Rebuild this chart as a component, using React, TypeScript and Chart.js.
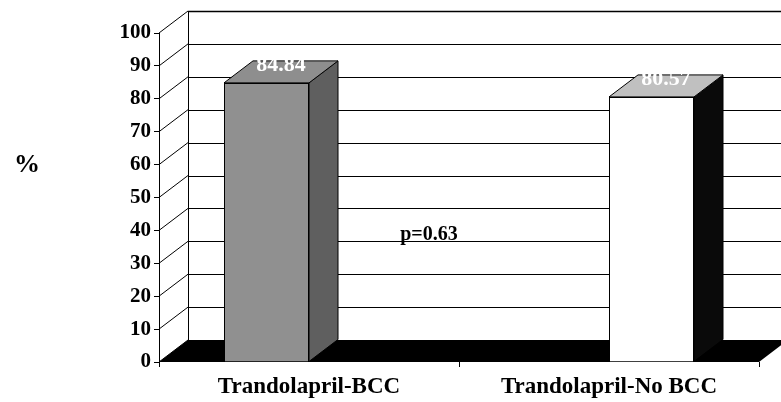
import React, { useEffect, useRef } from "react";
import { Chart, registerables } from "chart.js";

Chart.register(...registerables);

const categories = ["Trandolapril-BCC", "Trandolapril-No BCC"];
const seriesBCC: (number | null)[] = [84.84, null];
const seriesNoBCC: (number | null)[] = [null, 80.57];
const yTickValues = [0, 10, 20, 30, 40, 50, 60, 70, 80, 90, 100];
const yAxisTitle = "%";
const pValueText = "p=0.63";
const pValueLevel = 37;

const FONT = "'Liberation Serif', 'Times New Roman', serif";
const DX = 29;
const DY = -22;
const frontColors = ["#909090", "#ffffff"];
const topColors = ["#8e8e8e", "#c0c0c0"];
const sideColors = ["#5f5f5f", "#0a0a0a"];

const threeD = {
  id: "threeD",
  beforeDatasetsDraw(chart: any) {
    const { ctx, chartArea: a, scales } = chart;
    const y = scales.y;
    ctx.save();
    ctx.strokeStyle = "#000";
    ctx.lineWidth = 1;
    const yTop = y.getPixelForValue(100);
    const y0 = y.getPixelForValue(0);
    for (const v of yTickValues) {
      const yf = y.getPixelForValue(v);
      const yb = Math.round(yf + DY) + 0.5;
      ctx.lineWidth = v === 100 ? 1.5 : 1;
      ctx.beginPath();
      ctx.moveTo(a.left + DX, yb);
      ctx.lineTo(a.right + DX + 10, yb);
      ctx.stroke();
      ctx.lineWidth = 1;
      ctx.beginPath();
      ctx.moveTo(a.left, yf);
      ctx.lineTo(a.left + DX, yf + DY);
      ctx.stroke();
    }
    ctx.beginPath();
    ctx.moveTo(a.left + DX + 0.5, yTop + DY);
    ctx.lineTo(a.left + DX + 0.5, y0 + DY);
    ctx.stroke();
    // floor
    ctx.fillStyle = "#000";
    ctx.beginPath();
    ctx.moveTo(a.left, y0);
    ctx.lineTo(a.right, y0);
    ctx.lineTo(a.right + DX, y0 + DY);
    ctx.lineTo(a.left + DX, y0 + DY);
    ctx.closePath();
    ctx.fill();
    ctx.restore();
  },
  afterDatasetsDraw(chart: any) {
    const { ctx, chartArea: a, scales } = chart;
    const x = scales.x;
    const y = scales.y;
    ctx.save();
    ctx.lineWidth = 1;
    ctx.strokeStyle = "#000";
    chart.data.datasets.forEach((ds: any, di: number) => {
      const meta = chart.getDatasetMeta(di);
      meta.data.forEach((el: any, i: number) => {
        const v = ds.data[i];
        if (v === null || v === undefined) return;
        const { x: cx, y: top, base, width } = el.getProps(["x", "y", "base", "width"], true);
        const l = cx - width / 2;
        const r = cx + width / 2;
        // side face
        ctx.fillStyle = sideColors[di];
        ctx.beginPath();
        ctx.moveTo(r, top);
        ctx.lineTo(r + DX, top + DY);
        ctx.lineTo(r + DX, base + DY);
        ctx.lineTo(r, base);
        ctx.closePath();
        ctx.fill();
        ctx.stroke();
        // top face
        ctx.fillStyle = topColors[di];
        ctx.beginPath();
        ctx.moveTo(l, top);
        ctx.lineTo(l + DX, top + DY);
        ctx.lineTo(r + DX, top + DY);
        ctx.lineTo(r, top);
        ctx.closePath();
        ctx.fill();
        ctx.stroke();
        // value label
        ctx.fillStyle = "#ffffff";
        ctx.font = `bold 22px ${FONT}`;
        ctx.textAlign = "center";
        ctx.textBaseline = "alphabetic";
        ctx.fillText(v.toFixed(2), cx + DX / 2, top + DY / 2 - 1);
      });
    });
    // axis title
    ctx.fillStyle = "#000";
    ctx.font = `bold 26px ${FONT}`;
    ctx.textAlign = "center";
    ctx.textBaseline = "middle";
    ctx.fillText(yAxisTitle, 27, (a.top + a.bottom) / 2 - 32);
    // p value
    ctx.font = `bold 20px ${FONT}`;
    ctx.textAlign = "center";
    ctx.textBaseline = "alphabetic";
    const midX = (x.getPixelForValue(0) + x.getPixelForValue(1)) / 2 - 30;
    ctx.fillText(pValueText, midX, y.getPixelForValue(pValueLevel));
    ctx.restore();
  },
};

export default function App() {
  const ref = useRef<HTMLCanvasElement | null>(null);
  useEffect(() => {
    if (!ref.current) return;
    const chart = new Chart(ref.current, {
      type: "bar",
      data: {
        labels: categories,
        datasets: [
          {
            label: "BCC",
            data: seriesBCC,
            backgroundColor: frontColors[0],
            borderColor: "#000",
            borderWidth: 1,
            categoryPercentage: 170 / 300,
            barPercentage: 1,
          },
          {
            label: "No BCC",
            data: seriesNoBCC,
            backgroundColor: frontColors[1],
            borderColor: "#000",
            borderWidth: 1,
            categoryPercentage: 170 / 300,
            barPercentage: 1,
          },
        ] as any,
      },
      options: {
        animation: false,
        responsive: false,
        layout: { padding: { top: 33, right: 22, left: 0, bottom: 0 } },
        plugins: { legend: { display: false }, tooltip: { enabled: false } },
        scales: {
          x: {
            grid: { offset: true, drawOnChartArea: false, drawTicks: true, tickLength: 5, color: "#000" },
            border: { display: false },
            ticks: { color: "#000", padding: 6, font: { family: FONT, size: 23, weight: "bold" } },
            afterFit: (s: any) => {
              s.height = 40;
            },
          },
          y: {
            min: 0,
            max: 100,
            ticks: { stepSize: 10, color: "#000", padding: 3, font: { family: FONT, size: 21, weight: "bold" } },
            grid: { drawOnChartArea: false, drawTicks: true, tickLength: 5, color: "#000" },
            border: { display: true, color: "#000", width: 1 },
            afterFit: (s: any) => {
              s.width = 159;
            },
          },
        },
      } as any,
      plugins: [threeD],
    });
    return () => chart.destroy();
  }, []);
  return (
    <div style={{ position: "absolute", left: 0, top: 0, width: 781, height: 402, background: "#fff" }}>
      <canvas ref={ref} width={781} height={402} style={{ display: "block" }} />
    </div>
  );
}
